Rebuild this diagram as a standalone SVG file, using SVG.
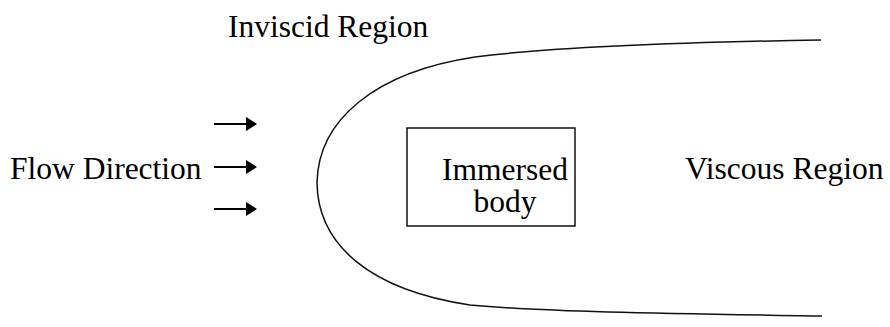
<svg xmlns="http://www.w3.org/2000/svg" width="890" height="327" viewBox="0 0 890 327">
  <style>
    .lbl { font-family: "Liberation Serif", "Times New Roman", serif; font-size: 31.5px; fill: #000; }
    .line { fill: none; stroke: #111; stroke-width: 1.5; }
    .arrow { fill: none; stroke: #000; stroke-width: 2; }
  </style>
  <defs>
    <marker id="head" viewBox="0 0 11 14" refX="10" refY="7" markerWidth="11" markerHeight="14" orient="auto" markerUnits="userSpaceOnUse">
      <path d="M0,0 L11,7 L0,14 Z" fill="#000"/>
    </marker>
  </defs>
  <rect width="890" height="327" fill="#fff"/>

  <!-- boundary between the inviscid and viscous regions -->
  <g id="boundary">
    <path class="line" d="M821,40 C700,42 560,46 475,57 C375,72 318,120 317,183 C318,245 370,290 470,305 C560,313 700,314 822,316"/>
  </g>

  <g id="inviscid-label">
    <text class="lbl" x="228" y="37">Inviscid Region</text>
  </g>

  <g id="viscous-label">
    <text class="lbl" x="685" y="179">Viscous Region</text>
  </g>

  <g id="flow-label">
    <text class="lbl" x="10" y="179">Flow Direction</text>
  </g>

  <g id="body">
    <rect class="line" x="407" y="128" width="168" height="98"/>
    <text class="lbl" x="505" y="180" text-anchor="middle">Immersed</text>
    <text class="lbl" x="505" y="212" text-anchor="middle">body</text>
  </g>

  <!-- flow arrows -->
  <g id="connectors">
    <line class="arrow" x1="214" y1="124" x2="256" y2="124" marker-end="url(#head)"/>
    <line class="arrow" x1="214" y1="167" x2="256" y2="167" marker-end="url(#head)"/>
    <line class="arrow" x1="214" y1="209" x2="256" y2="209" marker-end="url(#head)"/>
  </g>
</svg>
